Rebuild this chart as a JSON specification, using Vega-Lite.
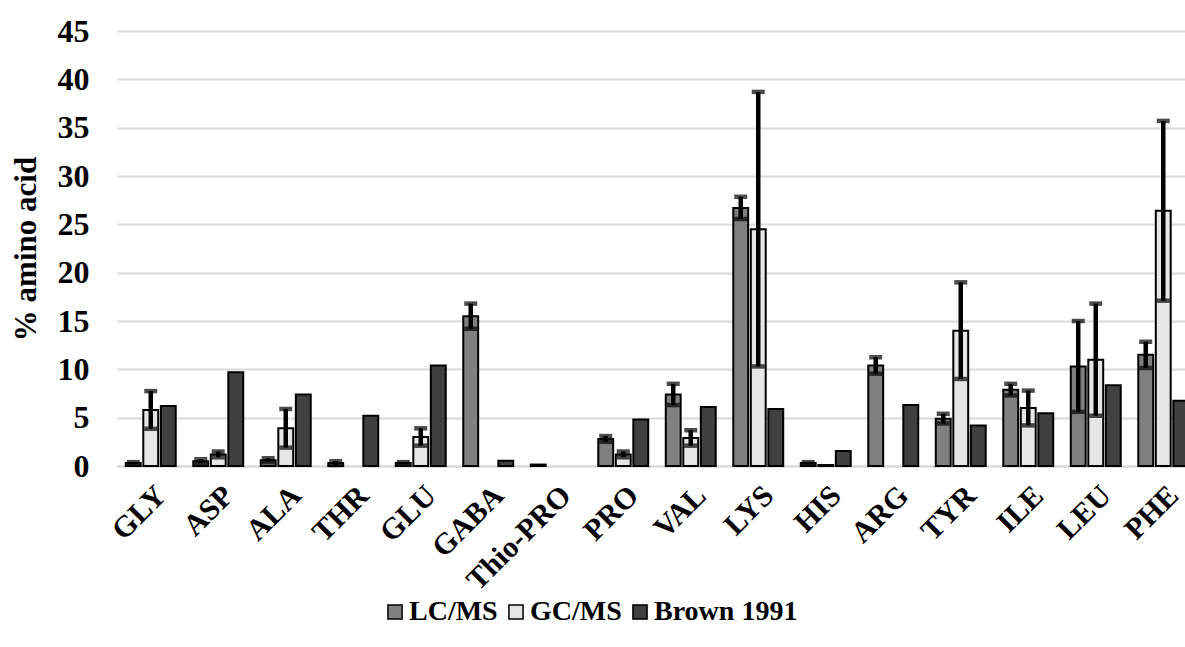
{
  "$schema": "https://vega.github.io/schema/vega-lite/v6.json",
  "autosize": {"type": "none"},
  "padding": {"left": 117, "top": 31, "right": 0, "bottom": 181},
  "width": 1080,
  "height": 435,
  "background": "white",
  "config": {
    "view": {"stroke": null},
    "axisY": {"domain": false, "ticks": false}
  },
  "data": {
    "values": [
      {"amino": "GLY", "method": "LC/MS", "value": 0.3, "err": 0.1},
      {"amino": "GLY", "method": "GC/MS", "value": 5.8, "err": 1.95},
      {"amino": "GLY", "method": "Brown 1991", "value": 6.2},
      {"amino": "ASP", "method": "LC/MS", "value": 0.5, "err": 0.2},
      {"amino": "ASP", "method": "GC/MS", "value": 1.2, "err": 0.3},
      {"amino": "ASP", "method": "Brown 1991", "value": 9.7},
      {"amino": "ALA", "method": "LC/MS", "value": 0.6, "err": 0.2},
      {"amino": "ALA", "method": "GC/MS", "value": 3.9, "err": 2.0},
      {"amino": "ALA", "method": "Brown 1991", "value": 7.4},
      {"amino": "THR", "method": "LC/MS", "value": 0.3, "err": 0.2},
      {"amino": "THR", "method": "Brown 1991", "value": 5.2},
      {"amino": "GLU", "method": "LC/MS", "value": 0.3, "err": 0.1},
      {"amino": "GLU", "method": "GC/MS", "value": 3.0, "err": 0.9},
      {"amino": "GLU", "method": "Brown 1991", "value": 10.4},
      {"amino": "GABA", "method": "LC/MS", "value": 15.5, "err": 1.3},
      {"amino": "GABA", "method": "Brown 1991", "value": 0.55},
      {"amino": "Thio-PRO", "method": "LC/MS", "value": 0.15},
      {"amino": "PRO", "method": "LC/MS", "value": 2.8, "err": 0.3},
      {"amino": "PRO", "method": "GC/MS", "value": 1.2, "err": 0.3},
      {"amino": "PRO", "method": "Brown 1991", "value": 4.8},
      {"amino": "VAL", "method": "LC/MS", "value": 7.4, "err": 1.1},
      {"amino": "VAL", "method": "GC/MS", "value": 2.9, "err": 0.8},
      {"amino": "VAL", "method": "Brown 1991", "value": 6.1},
      {"amino": "LYS", "method": "LC/MS", "value": 26.7, "err": 1.15},
      {"amino": "LYS", "method": "GC/MS", "value": 24.5, "err": 14.2},
      {"amino": "LYS", "method": "Brown 1991", "value": 5.9},
      {"amino": "HIS", "method": "LC/MS", "value": 0.3, "err": 0.1},
      {"amino": "HIS", "method": "GC/MS", "value": 0.1},
      {"amino": "HIS", "method": "Brown 1991", "value": 1.55},
      {"amino": "ARG", "method": "LC/MS", "value": 10.4, "err": 0.85},
      {"amino": "ARG", "method": "Brown 1991", "value": 6.3},
      {"amino": "TYR", "method": "LC/MS", "value": 4.9, "err": 0.5},
      {"amino": "TYR", "method": "GC/MS", "value": 14.0, "err": 5.0},
      {"amino": "TYR", "method": "Brown 1991", "value": 4.2},
      {"amino": "ILE", "method": "LC/MS", "value": 7.9, "err": 0.6},
      {"amino": "ILE", "method": "GC/MS", "value": 6.0, "err": 1.8},
      {"amino": "ILE", "method": "Brown 1991", "value": 5.45},
      {"amino": "LEU", "method": "LC/MS", "value": 10.3, "err": 4.7},
      {"amino": "LEU", "method": "GC/MS", "value": 11.0, "err": 5.8},
      {"amino": "LEU", "method": "Brown 1991", "value": 8.35},
      {"amino": "PHE", "method": "LC/MS", "value": 11.5, "err": 1.35},
      {"amino": "PHE", "method": "GC/MS", "value": 26.4, "err": 9.3},
      {"amino": "PHE", "method": "Brown 1991", "value": 6.75}
    ]
  },
  "encoding": {
    "x": {
      "field": "amino",
      "type": "nominal",
      "sort": ["GLY", "ASP", "ALA", "THR", "GLU", "GABA", "Thio-PRO", "PRO", "VAL", "LYS", "HIS", "ARG", "TYR", "ILE", "LEU", "PHE"],
      "scale": {"paddingInner": 0.26, "paddingOuter": 0.13},
      "axis": {
        "title": null,
        "labelAngle": -45,
        "labelFont": "Liberation Serif",
        "labelFontWeight": "bold",
        "labelFontSize": 30,
        "labelColor": "black",
        "labelPadding": 14,
        "labelDx": -8,
        "ticks": false,
        "domainColor": "#d9d9d9",
        "domainWidth": 2,
        "grid": false
      }
    },
    "xOffset": {
      "field": "method",
      "type": "nominal",
      "sort": ["LC/MS", "GC/MS", "Brown 1991"],
      "scale": {"domain": ["LC/MS", "GC/MS", "Brown 1991"], "paddingInner": 0.15}
    }
  },
  "layer": [
    {
      "mark": {"type": "bar", "stroke": "black", "strokeWidth": 2},
      "encoding": {
        "y": {
          "field": "value",
          "type": "quantitative",
          "title": "% amino acid",
          "scale": {"domain": [0, 45]},
          "axis": {
            "values": [0, 5, 10, 15, 20, 25, 30, 35, 40, 45],
            "titleFont": "Liberation Serif",
            "titleFontWeight": "bold",
            "titleFontSize": 31,
            "titleColor": "black",
            "titlePadding": 15,
            "labelFont": "Liberation Serif",
            "labelFontWeight": "bold",
            "labelFontSize": 32,
            "labelColor": "black",
            "labelPadding": 28,
            "gridColor": "#d9d9d9",
            "gridWidth": 2
          }
        },
        "color": {
          "field": "method",
          "type": "nominal",
          "scale": {"domain": ["LC/MS", "GC/MS", "Brown 1991"], "range": ["#808080", "#e6e6e6", "#404040"]},
          "legend": {
            "title": null,
            "orient": "none",
            "direction": "horizontal",
            "legendX": 264,
            "legendY": 567,
            "symbolType": "square",
            "symbolSize": 200,
            "symbolStrokeColor": "black",
            "symbolStrokeWidth": 1.5,
            "symbolOpacity": 1,
            "labelFont": "Liberation Serif",
            "labelFontWeight": "bold",
            "labelFontSize": 28,
            "labelColor": "black",
            "labelOffset": 0,
            "columnPadding": 4
          }
        }
      }
    },
    {
      "transform": [{"filter": "isValid(datum.err)"}],
      "mark": {
        "type": "errorbar",
        "ticks": {"size": 13, "thickness": 4.5, "color": "black"},
        "rule": {"strokeWidth": 4.5, "color": "black"}
      },
      "encoding": {
        "y": {"field": "value", "type": "quantitative", "title": "% amino acid"},
        "yError": {"field": "err"}
      }
    }
  ]
}
